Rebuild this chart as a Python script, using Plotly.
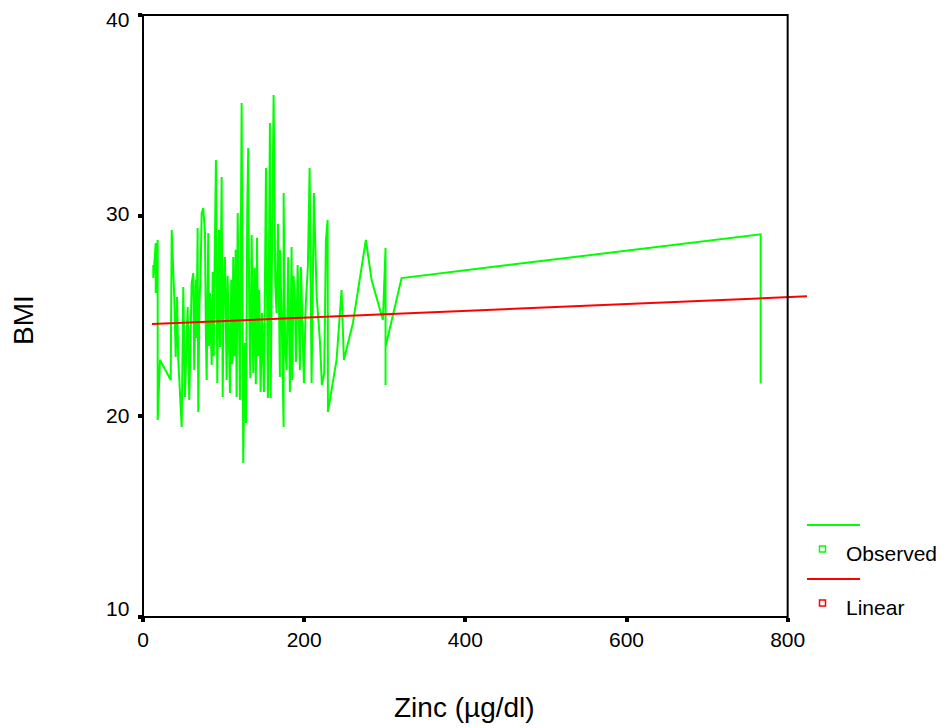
import plotly.graph_objs as go

# Observed BMI vs Zinc, in the order the curve is drawn (sorted by zinc)
zinc = [12.8, 12.8, 15.8, 15.8, 18.2, 18.2, 21.1, 34.4, 35.6, 38.8,
        40.6, 42.2, 43.8, 48.0, 50.0, 52.1, 55.4, 57.4, 60.4, 62.4,
        63.6, 65.5, 66.5, 67.8, 68.6, 70.0, 71.6, 72.8, 74.8, 76.9,
        78.0, 79.0, 81.0, 82.0, 83.1, 85.2, 86.5, 87.8, 89.0, 90.5,
        92.2, 94.3, 95.5, 97.6, 98.9, 100.2, 101.7, 103.8, 105.0, 106.5,
        107.9, 109.5, 110.8, 112.0, 113.5, 115.0, 116.2, 117.5, 120.3, 122.4,
        124.4, 126.5, 127.8, 129.4, 130.6, 131.8, 133.2, 134.8, 136.8, 138.5,
        140.0, 141.5, 142.8, 144.2, 146.0, 147.6, 150.1, 152.6, 155.0, 157.5,
        158.4, 160.0, 162.1, 164.1, 165.8, 167.5, 169.9, 169.9, 172.0, 174.5,
        174.5, 176.3, 178.2, 180.2, 182.3, 184.4, 185.2, 186.8, 188.5, 189.8,
        191.9, 194.7, 196.0, 199.7, 202.0, 204.6, 206.8, 209.2, 212.1, 215.5,
        219.5, 222.0, 224.9, 227.0, 229.1, 229.5, 240.2, 246.4, 249.3, 260.5,
        276.6, 283.7, 297.7, 301.0, 301.0, 301.0, 320.9, 766.5, 766.5]
bmi = [27.54, 26.89, 28.64, 26.15, 28.79, 19.82, 22.81, 21.81, 29.28, 25.95,
       22.96, 25.95, 22.81, 19.47, 26.44, 20.96, 25.45, 20.81, 26.64, 27.14,
       22.31, 26.80, 23.90, 29.38, 20.22, 25.60, 27.29, 30.13, 30.38, 29.13,
       24.20, 21.81, 29.13, 23.50, 26.15, 22.56, 27.20, 23.00, 28.00, 32.77,
       21.66, 29.28, 23.45, 31.93, 20.96, 26.50, 27.94, 21.81, 27.00, 23.20,
       21.16, 26.80, 22.60, 27.94, 23.00, 28.30, 20.96, 30.13, 20.81, 35.61,
       17.67, 23.65, 19.67, 30.43, 33.37, 25.30, 21.90, 29.03, 22.16, 27.40,
       21.60, 28.90, 23.00, 26.29, 21.21, 25.15, 21.21, 32.37, 20.91, 34.62,
       20.91, 27.80, 36.01, 26.64, 25.15, 29.60, 21.96, 28.29, 25.15, 19.47,
       31.13, 23.60, 22.31, 27.94, 21.21, 28.44, 21.81, 27.00, 25.95, 22.71,
       27.54, 22.31, 27.44, 21.66, 25.60, 27.44, 32.37, 21.66, 31.13, 26.00,
       23.80, 21.56, 22.16, 28.79, 29.78, 20.22, 22.81, 26.29, 22.81, 24.65,
       28.79, 26.79, 24.80, 28.39, 21.56, 23.47, 26.89, 29.07, 21.64]

# Linear fit line
linear_zinc = [11.2, 824.0]
linear_bmi = [24.60, 25.98]

x_ticks = [0, 200, 400, 600, 800]
y_ticks = [10, 20, 30, 40]
legend_names = ['Observed', 'Linear']
legend_colors = ['#00ff00', '#ff0000']

FONT = 'Arial, Liberation Sans, sans-serif'
X_MAX = 824
# the page body has an 8px margin, so the figure is drawn 8px in
PAGE = 8
# SPSS puts the y labels a little off their ticks (pixels, + is down)
Y_LABEL_NUDGE = {10: -9, 20: -1, 30: -2, 40: 4.5}


def build_figure() -> go.Figure:
    fig = go.Figure(go.Scatter(x=zinc, y=bmi, mode='lines',
                               line=dict(color=legend_colors[0], width=2),
                               showlegend=False))
    fig.add_trace(go.Scatter(x=linear_zinc, y=linear_bmi, mode='lines',
                             line=dict(color=legend_colors[1], width=2),
                             showlegend=False))

    fig.update_layout(
        width=944 - PAGE, height=728 - PAGE,
        margin=dict(l=143 - PAGE, r=137, t=15 - PAGE, b=111),
        plot_bgcolor='white', paper_bgcolor='white',
        font=dict(family=FONT, size=21, color='black'),
    )
    axis_style = dict(showgrid=False, zeroline=False, showline=False,
                      automargin=False, ticks='outside', ticklen=4,
                      tickwidth=4, tickcolor='black')
    fig.update_xaxes(range=[0, X_MAX], tickvals=x_ticks, **axis_style)
    fig.update_yaxes(range=[10, 40], tickvals=y_ticks, showticklabels=False,
                     **axis_style)

    # frame only spans 0..800, the fit line runs past it
    fig.add_shape(type='rect', xref='paper', yref='paper',
                  x0=0, x1=800 / X_MAX, y0=0, y1=1,
                  line=dict(color='black', width=2))

    # positions below are page pixels relative to the plot area
    def px(x):
        return (x - 143) / 664

    def py(y):
        return (617 - y) / 602

    for v in y_ticks:
        fig.add_annotation(text=str(v), xref='paper', yref='y',
                           x=px(131), y=v, yshift=-Y_LABEL_NUDGE[v],
                           showarrow=False, xanchor='right', yanchor='middle')

    fig.add_annotation(text='Zinc (µg/dl)', xref='paper', yref='paper',
                       x=px(464), y=py(707), showarrow=False,
                       font=dict(size=28), xanchor='center', yanchor='middle')
    fig.add_annotation(text='BMI', xref='paper', yref='paper',
                       x=px(23), y=py(320), showarrow=False, textangle=-90,
                       font=dict(size=28), xanchor='center', yanchor='middle')

    # SPSS style legend to the lower right
    for i, (name, color) in enumerate(zip(legend_names, legend_colors)):
        off = i * 54
        fig.add_shape(type='line', xref='paper', yref='paper',
                      x0=px(807), x1=px(860), y0=py(525 + off), y1=py(525 + off),
                      line=dict(color=color, width=2))
        fig.add_shape(type='rect', xref='paper', yref='paper',
                      x0=px(819.5), x1=px(825.5), y0=py(546 + off), y1=py(552 + off),
                      line=dict(color=color, width=1.5))
        fig.add_annotation(text=name, xref='paper', yref='paper',
                           x=px(844), y=py(553.5 + off), showarrow=False,
                           xanchor='left', yanchor='middle', font=dict(size=21))
    return fig


fig = build_figure()
fig.write_html("out.html")
